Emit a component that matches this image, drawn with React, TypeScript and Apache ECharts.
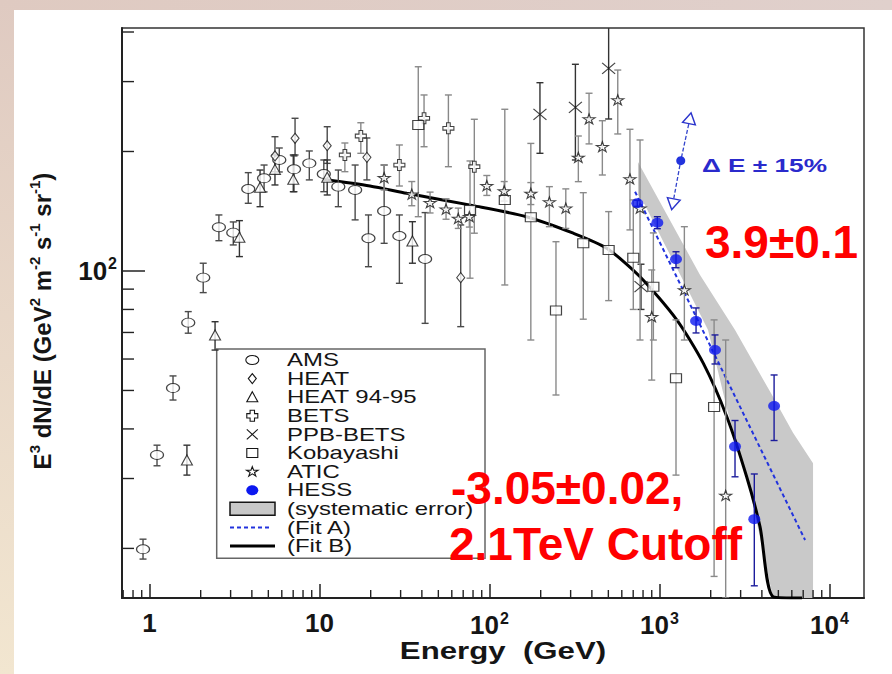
import { useEffect, useRef } from 'react';
import * as echarts from 'echarts';

// ---- axis ranges (log10 axes) ----
const X_MIN = 0.689;
const X_MAX = 15950;
const Y_MIN = 15.0;
const Y_MAX = 409.4;

const MINOR_STEPS = [2, 3, 4, 5, 6, 7, 8, 9];
const X_DECADES = [0.1, 1, 10, 100, 1000, 10000];
const Y_DECADES = [10, 100];

// ---- measurements: [energy GeV, E^3 dN/dE, lower, upper] ----
const AMS = [
  [0.916, 19.9, 18.8, 21.1],
  [1.107, 34.4, 32.3, 36.4],
  [1.375, 50.7, 47.3, 54.4],
  [1.69, 74.1, 69.7, 79.0],
  [2.07, 96.2, 88.2, 104.6],
  [2.56, 128.9, 119.2, 138.4],
  [3.11, 124.9, 116.3, 132.9],
  [3.81, 160.9, 148.1, 176.9],
  [4.72, 171.2, 158.2, 184.9],
  [5.8, 190.4, 177.6, 204.1],
  [7.08, 180.4, 158.4, 194.9],
  [8.71, 186.7, 169.6, 200.6],
  [10.6, 175.5, 158.4, 190.4],
  [12.9, 163.1, 145.2, 179.6],
  [16.2, 160.0, 134.5, 184.9],
  [19.4, 120.9, 102.5, 138.4],
  [24.0, 141.6, 117.4, 184.9],
  [29.5, 122.5, 93.1, 138.4],
  [41.8, 107.2, 73.8, 140.3],
];

const HEAT = [
  [5.47, 194.9, 177.9, 217.9],
  [7.18, 215.9, 196.0, 242.5],
  [11.1, 206.8, 186.7, 230.9],
  [19.0, 193.3, 169.6, 216.3],
  [67.7, 96.2, 72.4, 130.6],
];

const HEAT_94_95 = [
  [1.66, 33.4, 30.6, 36.4],
  [2.43, 69.0, 63.2, 74.5],
  [3.38, 121.6, 108.7, 133.9],
  [4.47, 162.5, 145.2, 179.6],
  [5.47, 180.3, 164.7, 196.0],
  [7.01, 170.2, 158.4, 196.0],
  [11.1, 172.2, 155.4, 190.4],
  [35.2, 119.0, 104.6, 133.1],
];

const BETS = [
  [14.1, 196.0, 177.9, 210.1],
  [17.5, 218.8, 197.9, 236.3],
  [29.5, 184.9, 163.7, 207.7],
  [41.2, 242.5, 205.6, 277.6],
  [57.3, 228.8, 183.1, 277.6],
  [81.4, 183.1, 124.5, 241.1],
];

const PPB_BETS = [
  [198, 248.0, 197.9, 298.1],
  [320, 258.4, 190.4, 331.7],
  [502, 324.0, 241.5, 420.0],
  [778, 91.3, 80.0, 104.0],
];

const KOBAYASHI = [
  [38.1, 233.2, 137.0, 327.0],
  [76.8, 142.4, 95.9, 189.3],
  [123, 151.0, 92.2, 255.5],
  [175, 136.6, 67.0, 209.6],
  [246, 79.5, 48.7, 118.5],
  [356, 117.4, 75.6, 157.5],
  [502, 112.9, 84.2, 141.1],
  [701, 108.0, 80.0, 151.0],
  [920, 91.3, 67.0, 124.7],
  [1250, 53.7, 30.6, 75.3],
  [2094, 45.4, 17.0, 75.3],
];

const ATIC = [
  [24.0, 171.8, 160, 185],
  [34.9, 156.1, 146, 168],
  [44.7, 148.6, 140, 158],
  [55.5, 143.1, 135, 152],
  [65.5, 135.7, 128, 144],
  [76.1, 137.0, 129, 146],
  [96.4, 164.0, 155, 174],
  [122, 159.1, 150, 168],
  [175, 156.9, 147, 167],
  [225, 149.2, 129.3, 163.1],
  [281, 143.9, 128, 161],
  [333, 193.3, 167.9, 218.8],
  [385, 241.5, 209, 280.4],
  [461, 205.6, 174.5, 239.1],
  [568, 269.7, 221.4, 320.8],
  [670, 170.5, 126.9, 227.5],
  [768, 143.9, 67.0, 213.8],
  [900, 76.7, 53.1, 100.6],
  [1400, 89.6, 67.0, 129.3],
  [2450, 27.2, 15.0, 67.0],
];

const HESS = [
  [740, 148.1, 145.5, 150.7],
  [971, 132.3, 127.8, 137.0],
  [1250, 107.0, 101.9, 111.8],
  [1640, 74.8, 69.8, 80.7],
  [2120, 63.2, 58.3, 69.0],
  [2780, 36.1, 30.3, 42.0],
  [3610, 23.7, 16.1, 30.8],
  [4720, 45.7, 37.4, 54.7],
];

// ---- fits and systematic band ----
const FIT_A_E = [718, 7180];
const FIT_A_F = [158.4, 21.0];

const FIT_B_E = [10.5, 19.8, 32.6, 80.3, 165, 311, 489, 768, 1263, 1811, 2485, 3255, 3900, 4670, 6890];
const FIT_B_F = [170.2, 163.7, 156.9, 146.1, 137.0, 124.5, 114.1, 96.7, 75.3, 58.5, 43.0, 30.3, 22.7, 15.1, 15.0];

const SYS_E = [747, 1731, 2781, 4652, 6099, 7998, 7998, 4652, 4175, 3271, 2529, 1929, 1471, 1077, 821, 747];
const SYS_F = [188.2, 97.7, 71.0, 48.2, 39.1, 32.8, 15.0, 15.0, 18.7, 30.1, 43.9, 71.0, 89.6, 116.3, 146.6, 155.4];

// energy-scale uncertainty marker
const DE_E = [1511, 1333, 1196];
const DE_F = [242.5, 189.6, 147.3];

const LEGEND_LABELS = [
  'AMS', 'HEAT', 'HEAT 94-95', 'BETS', 'PPB-BETS', 'Kobayashi', 'ATIC', 'HESS',
  '(systematic error)', '(Fit A)', '(Fit B)',
];

const FONT = '"Liberation Sans", Arial, Helvetica, sans-serif';
const INK = '#151515';
const HESS_BLUE = '#0c18f0';

const STAR_PTS = [
  [50, 0], [61.2, 34.5], [97.6, 34.5], [68.2, 55.9], [79.4, 90.5],
  [50, 69.1], [20.6, 90.5], [31.8, 55.9], [2.4, 34.5], [38.8, 34.5],
];
const STAR_PATH = 'path://M' + STAR_PTS.map((p) => p.join(',')).join('L') + 'Z';
const ELLIPSE_PATH = 'path://M0,5A8,5,0,1,0,16,5A8,5,0,1,0,0,5Z';
const PLUS_PATH = 'path://M4,0H8V4H12V8H8V12H4V8H0V4H4Z';
const CROSS_PATH = 'path://M0,0L12,12M12,0L0,12';

function errorBars(color: string, width: number) {
  return (_p: any, api: any) => {
    const x = api.value(0);
    const lo = api.coord([x, api.value(2)]);
    const hi = api.coord([x, api.value(3)]);
    const c = 3.5;
    const st = { stroke: color, lineWidth: width };
    return {
      type: 'group',
      children: [
        { type: 'line', shape: { x1: lo[0], y1: lo[1], x2: hi[0], y2: hi[1] }, style: st },
        { type: 'line', shape: { x1: lo[0] - c, y1: lo[1], x2: lo[0] + c, y2: lo[1] }, style: st },
        { type: 'line', shape: { x1: hi[0] - c, y1: hi[1], x2: hi[0] + c, y2: hi[1] }, style: st },
      ],
    };
  };
}

function powerLabel(v: number) {
  const k = Math.log10(v);
  const r = Math.round(k);
  if (Math.abs(k - r) > 1e-6) return '';
  if (r === 0) return '1';
  if (r === 1) return '10';
  return `{b|10}{s|${r}}`;
}

const labelRich = {
  b: { fontSize: 26, fontWeight: 'bold', fontFamily: FONT, color: INK, lineHeight: 30 },
  s: { fontSize: 16, fontWeight: 'bold', fontFamily: FONT, color: INK, verticalAlign: 'top', padding: [0, 0, 0, 1] },
};

function buildLegend() {
  const cx = 252.3;
  const y0 = 360;
  const step = 18.6;
  const sym = { fill: '#fff', stroke: INK, lineWidth: 1.1 };
  const children: any[] = [
    {
      type: 'rect',
      shape: { x: 216.7, y: 349, width: 268.3, height: 209.3 },
      style: { fill: '#fff', stroke: '#666', lineWidth: 1.5 },
    },
  ];
  const ys = LEGEND_LABELS.map((_, i) => y0 + step * i);
  // markers
  children.push({ type: 'ellipse', shape: { cx, cy: ys[0], rx: 6.5, ry: 4.5 }, style: sym });
  children.push({
    type: 'polygon',
    shape: { points: [[cx, ys[1] - 5], [cx + 4, ys[1]], [cx, ys[1] + 5], [cx - 4, ys[1]]] },
    style: sym,
  });
  children.push({
    type: 'polygon',
    shape: { points: [[cx, ys[2] - 5.5], [cx + 5.5, ys[2] + 4.5], [cx - 5.5, ys[2] + 4.5]] },
    style: sym,
  });
  const a = 2.2, b = 5.5, y3 = ys[3];
  children.push({
    type: 'polygon',
    shape: {
      points: [
        [cx - a, y3 - b], [cx + a, y3 - b], [cx + a, y3 - a], [cx + b, y3 - a], [cx + b, y3 + a],
        [cx + a, y3 + a], [cx + a, y3 + b], [cx - a, y3 + b], [cx - a, y3 + a], [cx - b, y3 + a],
        [cx - b, y3 - a], [cx - a, y3 - a],
      ],
    },
    style: sym,
  });
  children.push({ type: 'line', shape: { x1: cx - 5.5, y1: ys[4] - 5, x2: cx + 5.5, y2: ys[4] + 5 }, style: { stroke: INK, lineWidth: 1.1 } });
  children.push({ type: 'line', shape: { x1: cx + 5.5, y1: ys[4] - 5, x2: cx - 5.5, y2: ys[4] + 5 }, style: { stroke: INK, lineWidth: 1.1 } });
  children.push({ type: 'rect', shape: { x: cx - 5.5, y: ys[5] - 4.5, width: 11, height: 9 }, style: sym });
  children.push({
    type: 'polygon',
    shape: { points: STAR_PTS.map((p) => [cx - 6 + p[0] * 0.12, ys[6] - 5 + p[1] * 0.105]) },
    style: sym,
  });
  children.push({ type: 'ellipse', shape: { cx, cy: ys[7], rx: 6, ry: 5 }, style: { fill: HESS_BLUE } });
  children.push({ type: 'rect', shape: { x: 230, y: ys[8] - 6.5, width: 45, height: 13 }, style: { fill: '#c8c8c8', stroke: INK, lineWidth: 1.5 } });
  children.push({ type: 'line', shape: { x1: 230, y1: ys[9], x2: 272, y2: ys[9] }, style: { stroke: '#2233dd', lineWidth: 2, lineDash: [4, 3] } });
  children.push({ type: 'line', shape: { x1: 230, y1: ys[10], x2: 275, y2: ys[10] }, style: { stroke: '#000', lineWidth: 3 } });
  // labels
  LEGEND_LABELS.forEach((t, i) => {
    children.push({
      type: 'text',
      x: 287,
      y: ys[i],
      scaleX: 1.37,
      style: { text: t, fontSize: 17.5, fontFamily: FONT, fill: INK, verticalAlign: 'middle', align: 'left' },
    });
  });
  return { type: 'group', z: 60, children };
}

function buildOption(): any {
  const xMinor: number[][] = [];
  X_DECADES.forEach((d) => MINOR_STEPS.forEach((m) => {
    const v = m * d;
    if (v > X_MIN && v < X_MAX) xMinor.push([v, Y_MIN]);
  }));
  const yMinor: number[][] = [];
  Y_DECADES.forEach((d) => MINOR_STEPS.forEach((m) => {
    const v = m * d;
    if (v > Y_MIN && v < Y_MAX) yMinor.push([X_MIN, v]);
  }));

  const openSym = { color: '#fff', borderColor: INK, borderWidth: 1.1 };

  const expt = (name: string, data: number[][], symbol: string, size: number[], barColor: string) => [
    {
      name: name + ' err',
      type: 'custom',
      renderItem: errorBars(barColor, 1.4),
      data,
      encode: { x: 0, y: 1 },
      clip: true,
      z: 4,
      silent: true,
    },
    {
      name,
      type: 'scatter',
      data: data.map((d) => [d[0], d[1]]),
      symbol,
      symbolSize: size,
      itemStyle: openSym,
      z: 5,
      silent: true,
    },
  ];

  return {
    animation: false,
    backgroundColor: '#ffffff',
    grid: {
      left: 122, right: 28, top: 28, bottom: 76,
      show: true, borderColor: '#333', borderWidth: 1.5, backgroundColor: 'transparent',
    },
    xAxis: {
      type: 'log', logBase: 10, min: X_MIN, max: X_MAX,
      axisLine: { show: true, lineStyle: { color: '#222', width: 2 } },
      axisTick: { show: true, inside: true, length: 14, lineStyle: { color: '#222', width: 1.5 } },
      splitLine: { show: false },
      axisLabel: {
        formatter: powerLabel, margin: 12, fontSize: 26, fontWeight: 'bold',
        fontFamily: FONT, color: INK, rich: labelRich, showMinLabel: false, showMaxLabel: false,
      },
    },
    yAxis: {
      type: 'log', logBase: 10, min: Y_MIN, max: Y_MAX,
      axisLine: { show: true, lineStyle: { color: '#222', width: 2 } },
      axisTick: { show: true, inside: true, length: 23, lineStyle: { color: '#222', width: 1.5 } },
      splitLine: { show: false },
      axisLabel: {
        formatter: powerLabel, margin: 5, fontSize: 26, fontWeight: 'bold',
        fontFamily: FONT, color: INK, rich: labelRich, showMinLabel: false, showMaxLabel: false,
      },
    },
    series: [
      {
        name: 'x minor ticks', type: 'custom', data: xMinor, encode: { x: 0, y: 1 }, silent: true, z: 3,
        renderItem: (_p: any, api: any) => {
          const p = api.coord([api.value(0), Y_MIN]);
          return { type: 'line', shape: { x1: p[0], y1: p[1], x2: p[0], y2: p[1] - 8 }, style: { stroke: '#222', lineWidth: 1.4 } };
        },
      },
      {
        name: 'y minor ticks', type: 'custom', data: yMinor, encode: { x: 0, y: 1 }, silent: true, z: 3,
        renderItem: (_p: any, api: any) => {
          const p = api.coord([X_MIN, api.value(1)]);
          return { type: 'line', shape: { x1: p[0], y1: p[1], x2: p[0] + 12, y2: p[1] }, style: { stroke: '#222', lineWidth: 1.4 } };
        },
      },
      {
        name: '(systematic error)', type: 'custom', clip: true, z: 1, silent: true,
        data: SYS_E.map((e, i) => [e, SYS_F[i]]), encode: { x: 0, y: 1 },
        renderItem: (p: any, api: any) => {
          if (p.dataIndex !== 0) return null;
          const pts = SYS_E.map((e, i) => api.coord([e, SYS_F[i]]));
          return { type: 'polygon', shape: { points: pts }, style: { fill: '#c9c9c9' } };
        },
      },
      {
        name: '(Fit B)', type: 'line', data: FIT_B_E.map((e, i) => [e, FIT_B_F[i]]),
        showSymbol: false, symbol: 'none', smooth: 0.25, clip: true, z: 3, silent: true,
        lineStyle: { color: '#000', width: 3 },
      },
      {
        name: '(Fit A)', type: 'line', data: FIT_A_E.map((e, i) => [e, FIT_A_F[i]]),
        showSymbol: false, symbol: 'none', clip: true, z: 3, silent: true,
        lineStyle: { color: '#2233dd', width: 2, type: [4, 3] },
      },
      ...expt('AMS', AMS, ELLIPSE_PATH, [13, 9], '#4a4a4a'),
      ...expt('HEAT', HEAT, 'diamond', [8, 10], '#4a4a4a'),
      ...expt('HEAT 94-95', HEAT_94_95, 'triangle', [11, 10], '#333'),
      ...expt('BETS', BETS, PLUS_PATH, [11, 11], '#888'),
      ...expt('PPB-BETS', PPB_BETS, CROSS_PATH, [13, 11], '#333'),
      ...expt('Kobayashi', KOBAYASHI, 'rect', [11, 9], '#8a8a8a'),
      ...expt('ATIC', ATIC, STAR_PATH, [12, 10], '#8a8a8a'),
      {
        name: 'HESS err', type: 'custom', renderItem: errorBars('#1c1c9c', 1.4), data: HESS,
        encode: { x: 0, y: 1 }, clip: true, z: 6, silent: true,
      },
      {
        name: 'HESS', type: 'scatter', data: HESS.map((d) => [d[0], d[1]]),
        symbol: ELLIPSE_PATH, symbolSize: [12, 10], itemStyle: { color: HESS_BLUE }, z: 7, silent: true,
      },
      {
        name: 'energy scale', type: 'line', z: 7, silent: true,
        lineStyle: { color: '#3344cc', width: 1.3, type: [4, 2] },
        data: DE_E.map((e, i) => ({
          value: [e, DE_F[i]],
          symbol: i === 1 ? 'circle' : 'triangle',
          symbolSize: i === 1 ? 9 : [13, 11],
          symbolRotate: i === 0 ? -11 : i === 2 ? 169 : 0,
          itemStyle: i === 1
            ? { color: '#2233dd' }
            : { color: '#fff', borderColor: '#2a33cc', borderWidth: 1.4 },
        })),
      },
    ],
    graphic: [
      { type: 'rect', z: 0, shape: { x: 0, y: 0, width: 892, height: 10 },
        style: { fill: new echarts.graphic.LinearGradient(0, 0, 1, 0, [{ offset: 0, color: '#dfcac1' }, { offset: 1, color: '#e0d0cc' }]) } },
      { type: 'rect', z: 0, shape: { x: 0, y: 0, width: 14, height: 674 },
        style: { fill: new echarts.graphic.LinearGradient(0, 0, 0, 1, [{ offset: 0, color: '#dfcac1' }, { offset: 1, color: '#f2e6d0' }]) } },
      buildLegend(),
      {
        type: 'text', z: 60, x: 503, y: 651, scaleX: 1.3,
        style: { text: 'Energy  (GeV)', fontSize: 24, fontWeight: 'bold', fontFamily: FONT, fill: INK, align: 'center', verticalAlign: 'middle' },
      },
      {
        type: 'text', z: 60, x: 42, y: 321, rotation: Math.PI / 2,
        style: {
          text: '{t|E}{u|3}{t| dN/dE (GeV}{u|2}{t| m}{u|-2}{t| s}{u|-1}{t| sr}{u|-1}{t|)}',
          align: 'center', verticalAlign: 'middle',
          rich: {
            t: { fontSize: 24, fontWeight: 'bold', fontFamily: FONT, fill: INK, lineHeight: 30 },
            u: { fontSize: 15, fontWeight: 'bold', fontFamily: FONT, fill: INK, verticalAlign: 'top' },
          },
        },
      },
      {
        type: 'text', z: 60, x: 702, y: 165, scaleX: 1.38,
        style: { text: 'Δ E ± 15%', fontSize: 19, fontWeight: 'bold', fontFamily: FONT, fill: '#2a2acc', verticalAlign: 'middle' },
      },
      {
        type: 'text', z: 70, x: 705, y: 242,
        style: { text: '3.9±0.1', fontSize: 46, fontWeight: 'bold', fontFamily: FONT, fill: '#ff0000', verticalAlign: 'middle' },
      },
      {
        type: 'text', z: 70, x: 451, y: 488,
        style: { text: '-3.05±0.02,', fontSize: 46, fontWeight: 'bold', fontFamily: FONT, fill: '#ff0000', verticalAlign: 'middle' },
      },
      {
        type: 'text', z: 70, x: 449, y: 544,
        style: { text: '2.1TeV Cutoff', fontSize: 46, fontWeight: 'bold', fontFamily: FONT, fill: '#ff0000', verticalAlign: 'middle' },
      },
    ],
  };
}

export default function App() {
  const ref = useRef<HTMLDivElement>(null);
  useEffect(() => {
    if (!ref.current) return;
    const chart = echarts.init(ref.current, undefined, { renderer: 'svg' });
    chart.setOption(buildOption());
    return () => chart.dispose();
  }, []);
  return (
    <div
      ref={ref}
      style={{ position: 'absolute', left: 0, top: 0, width: 892, height: 674 }}
    />
  );
}
